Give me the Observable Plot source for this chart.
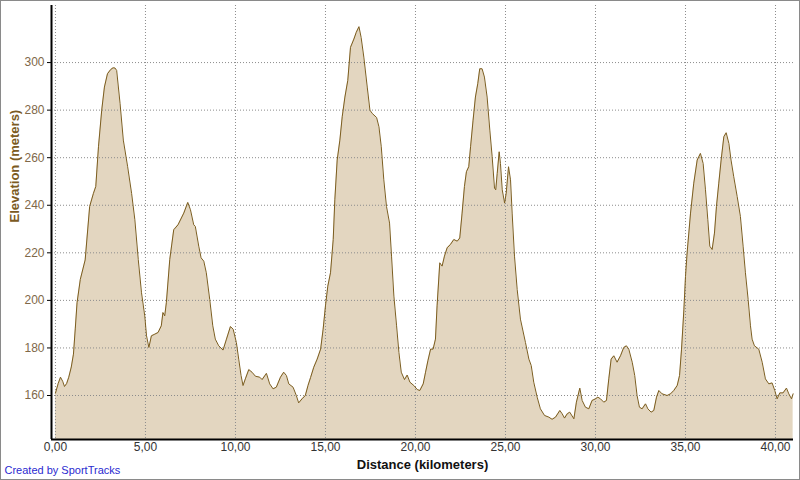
<!DOCTYPE html>
<html>
<head>
<meta charset="utf-8">
<script src="https://cdn.jsdelivr.net/npm/d3@7"></script>
<script src="https://cdn.jsdelivr.net/npm/@observablehq/plot@0.6"></script>
<style>
  html, body { margin: 0; padding: 0; background: #fff; }
  #chart svg { display: block; outline: 1px solid #8a8a8a; outline-offset: -1px; }
</style>
</head>
<body>
<div id="chart"></div>
<script>
const distanceKm = [
  0.0, 0.15, 0.28, 0.4, 0.5, 0.62, 0.74, 0.88, 1.0, 1.1, 1.2, 1.38, 1.65, 1.9, 2.11, 2.24, 2.39, 2.57, 2.72, 2.89,
  3.07, 3.2, 3.31, 3.4, 3.59, 3.77, 4.01, 4.23, 4.41, 4.6, 4.78, 4.96, 5.06, 5.19, 5.33, 5.52, 5.7, 5.88, 5.97, 6.07,
  6.16, 6.35, 6.57, 6.81, 7.13, 7.35, 7.5, 7.68, 7.77, 7.96, 8.09, 8.24, 8.38, 8.57, 8.74, 8.88, 9.07, 9.31, 9.5, 9.72,
  9.87, 10.05, 10.18, 10.31, 10.42, 10.55, 10.74, 10.92, 11.11, 11.35, 11.48, 11.72, 11.9, 12.09, 12.27, 12.5, 12.68, 12.83, 12.96, 13.2,
  13.38, 13.51, 13.7, 13.88, 14.03, 14.17, 14.35, 14.54, 14.73, 14.87, 15.0, 15.13, 15.28, 15.43, 15.52, 15.65, 15.8, 15.93, 16.08, 16.24,
  16.39, 16.58, 16.71, 16.86, 16.98, 17.13, 17.32, 17.47, 17.6, 17.84, 17.97, 18.1, 18.24, 18.39, 18.56, 18.67, 18.8, 18.95, 19.08, 19.21,
  19.39, 19.54, 19.69, 19.91, 20.1, 20.24, 20.43, 20.56, 20.69, 20.84, 20.98, 21.11, 21.2, 21.35, 21.48, 21.61, 21.76, 21.94, 22.13, 22.32,
  22.46, 22.59, 22.72, 22.83, 22.96, 23.06, 23.2, 23.33, 23.46, 23.57, 23.7, 23.83, 23.98, 24.13, 24.26, 24.39, 24.46, 24.54, 24.65, 24.72,
  24.82, 24.95, 25.04, 25.17, 25.28, 25.37, 25.5, 25.65, 25.83, 26.11, 26.3, 26.43, 26.57, 26.76, 26.94, 27.17, 27.41, 27.59, 27.78, 28.02,
  28.15, 28.28, 28.43, 28.57, 28.8, 28.94, 29.13, 29.26, 29.44, 29.63, 29.81, 30.0, 30.13, 30.28, 30.46, 30.61, 30.74, 30.87, 31.02, 31.2,
  31.39, 31.57, 31.72, 31.85, 32.04, 32.18, 32.31, 32.44, 32.59, 32.78, 32.91, 33.09, 33.24, 33.39, 33.52, 33.7, 33.98, 34.17, 34.35, 34.54,
  34.67, 34.78, 34.91, 35.0, 35.09, 35.28, 35.46, 35.65, 35.83, 35.98, 36.11, 36.24, 36.35, 36.48, 36.61, 36.72, 36.85, 36.98, 37.13, 37.26,
  37.41, 37.53, 37.68, 37.87, 38.05, 38.2, 38.33, 38.48, 38.61, 38.7, 38.83, 39.07, 39.26, 39.44, 39.63, 39.81, 39.96, 40.09, 40.24, 40.42,
  40.61, 40.74, 40.89, 40.98
];
const elevationM = [
  161, 165, 167.7, 166, 163.8, 165, 167.7, 172, 177.4, 188, 199, 208.8, 217, 239.5, 245, 247.9, 264.6, 280, 289.7, 295.3,
  297.1, 297.8, 297.7, 296.7, 282.7, 267.4, 256.2, 245, 233.9, 217.2, 203.2, 193.5, 185.1, 180.2, 185.1, 185.8, 186.5, 189.3, 194.9, 193.5,
  199, 217.2, 229.7, 231.8, 236.7, 241.2, 238.1, 231.8, 231.1, 222.8, 217.9, 216.5, 211.6, 200.4, 189.3, 183.7, 180.9, 179.1, 183.7, 189,
  187.9, 182.3, 175.3, 168.4, 164.2, 167, 170.9, 169.8, 168.1, 167.7, 166.7, 169.3, 164.9, 162.8, 163.5, 167.7, 169.8, 168.4, 164.9, 163.5,
  160, 156.9, 158.6, 160, 164.2, 167.5, 171.9, 175.3, 179.5, 187.9, 197.7, 206, 211.6, 225.6, 242.3, 259, 267.4, 277.2, 285.5, 292.5,
  306.4, 309.9, 312.7, 315.1, 310.6, 302.3, 289.7, 280, 278.6, 276.9, 273, 264.6, 250.7, 239.5, 232.5, 218.6, 201.8, 189.3, 178.1, 169.8,
  166.7, 168.6, 165.6, 164.2, 162.5, 162.1, 164.9, 169.8, 174.6, 179.5, 179.5, 183.7, 197.7, 215.8, 214.4, 218.6, 222.1, 223.5, 225.6, 224.9,
  226.2, 236.7, 247.9, 254.1, 256.2, 264.6, 275.8, 285.5, 291.1, 297.4, 297.4, 293.9, 285.5, 271.6, 260.4, 247.2, 246.5, 253.4, 262.5, 257.6,
  246.5, 240.9, 245.1, 256.2, 250.7, 236.7, 218.6, 204.6, 192.1, 182.3, 175.3, 172.6, 165.6, 159.3, 154.4, 151.6, 150.9, 150, 150.9, 153.7,
  152.3, 150.5, 152.3, 153, 150.2, 157.2, 163.1, 157.9, 155.1, 154.4, 157.9, 158.6, 159.3, 158.6, 157.2, 157.9, 167, 175.3, 176.7, 174,
  176.7, 180.2, 180.9, 179.5, 174, 168.4, 160, 155.1, 154.4, 156.5, 154.4, 153, 153.7, 159.3, 162.1, 160.7, 160, 160.7, 162.1, 164.2,
  168.4, 179.5, 196, 210, 220, 236.7, 249.3, 259, 261.8, 257.6, 246.5, 233.9, 222.8, 221.4, 228.3, 239.5, 249.3, 259, 268.8, 270.5,
  266, 259, 252, 243.7, 235.3, 222.8, 211.6, 200.4, 189.3, 183.7, 180.9, 179.5, 174, 167, 164.9, 165.3, 162.1, 158.6, 161.1, 161.1,
  163.1, 160.7, 158.6, 160.7
];
const xTicks = [0, 5, 10, 15, 20, 25, 30, 35, 40];
const yTicks = [160, 180, 200, 220, 240, 260, 280, 300];
const xTitle = "Distance (kilometers)";
const yTitle = "Elevation (meters)";
const credit = "Created by SportTracks";

const xMin = -0.22, xMax = 41.0;
const yMin = 141.5, yMax = 324;

const data = distanceKm.map((d, i) => ({km: d, elev: elevationM[i]}));
const fmt = d => d.toFixed(2).replace(".", ",");

const chart = Plot.plot({
  width: 800,
  height: 480,
  marginLeft: 51,
  marginRight: 7,
  marginTop: 5,
  marginBottom: 41,
  x: {domain: [xMin, xMax]},
  y: {domain: [yMin, yMax]},
  style: {fontFamily: "Arial, 'Liberation Sans', sans-serif", fontSize: "12px", background: "#fff", overflow: "visible"},
  marks: [
    Plot.areaY(data, {x: "km", y1: yMin, y2: "elev", fill: "#e3d6c0"}),
    Plot.gridX(xTicks, {stroke: "#8c8c8c", strokeOpacity: 1, strokeDasharray: "1,2"}),
    Plot.gridY(yTicks, {stroke: "#8c8c8c", strokeOpacity: 1, strokeDasharray: "1,2"}),
    Plot.lineY(data, {x: "km", y: "elev", stroke: "#7b5d1f", strokeWidth: 1}),
    Plot.ruleX([xMin], {stroke: "#000", strokeWidth: 2}),
    Plot.ruleY([yMin], {stroke: "#000", strokeWidth: 2}),
    Plot.axisX(xTicks, {tickSize: 0, tickPadding: 3, tickFormat: fmt, label: null, fill: "#333"}),
    Plot.axisY(yTicks, {tickSize: 4, tickPadding: 3, tickFormat: d => String(d), label: null, fill: "#806848", stroke: "#000"}),
    Plot.text([yTitle], {text: d => d, frameAnchor: "left", dx: -37, rotate: -90, fontWeight: "bold", fontSize: 13, fill: "#7b5a22"}),
    Plot.text([xTitle], {text: d => d, frameAnchor: "bottom", dy: 29, fontWeight: "bold", fontSize: 13, fill: "#111"}),
    Plot.text([credit], {text: d => d, frameAnchor: "bottom-left", dx: -47, dy: 34, textAnchor: "start", fontSize: 11, fill: "#2a2ad0"})
  ]
});
document.getElementById("chart").append(chart);
</script>
</body>
</html>
